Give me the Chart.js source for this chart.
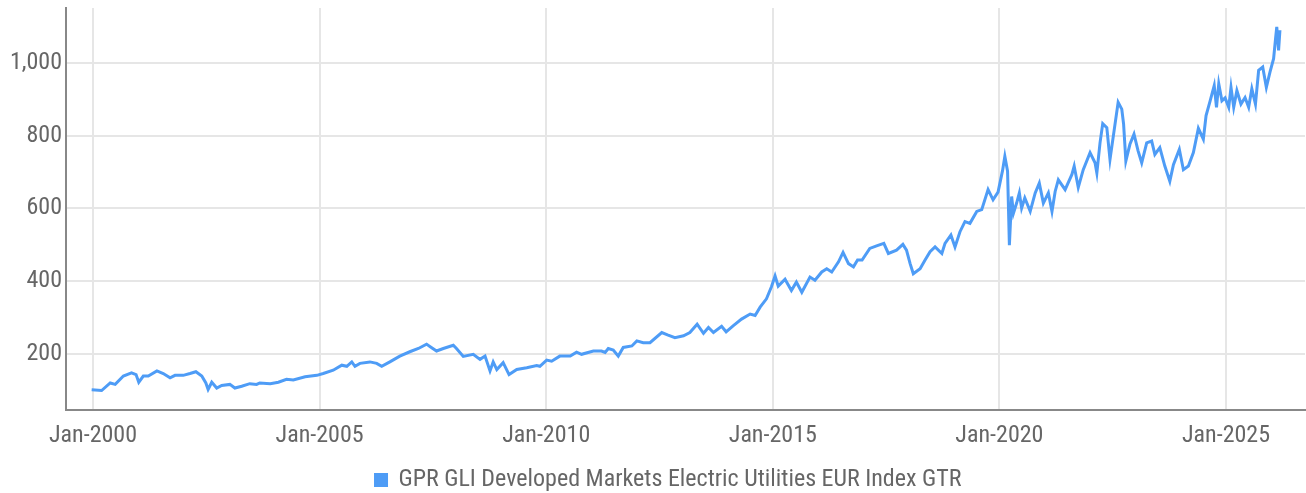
<!DOCTYPE html>
<html>
<head>
<meta charset="utf-8">
<script src="https://cdn.jsdelivr.net/npm/chart.js@4"></script>
<style>
  html, body { margin: 0; padding: 0; background: #fff; }
  #wrap { width: 1306px; height: 493px; }
</style>
</head>
<body>
<div id="wrap"><canvas id="indexChart" width="1306" height="493"></canvas></div>
<script>
// dates as decimal years
const yearPos = [
  1999.97, 2000.19, 2000.38, 2000.49, 2000.67, 2000.85, 2000.95, 2001.01, 2001.11, 2001.22,
  2001.41, 2001.55, 2001.70, 2001.81, 2001.99, 2002.14, 2002.27, 2002.40, 2002.49, 2002.54,
  2002.62, 2002.73, 2002.84, 2003.02, 2003.13, 2003.28, 2003.46, 2003.61, 2003.68, 2003.91,
  2004.09, 2004.27, 2004.42, 2004.68, 2004.94, 2005.08, 2005.30, 2005.49, 2005.60, 2005.71,
  2005.78, 2005.89, 2006.11, 2006.26, 2006.37, 2006.55, 2006.77, 2006.99, 2007.18, 2007.36,
  2007.44, 2007.58, 2007.73, 2007.95, 2008.02, 2008.17, 2008.39, 2008.54, 2008.65, 2008.76,
  2008.83, 2008.91, 2009.05, 2009.18, 2009.35, 2009.57, 2009.79, 2009.86, 2010.01, 2010.12,
  2010.30, 2010.53, 2010.67, 2010.78, 2011.04, 2011.22, 2011.30, 2011.37, 2011.48, 2011.59,
  2011.70, 2011.89, 2012.00, 2012.14, 2012.29, 2012.55, 2012.69, 2012.84, 2013.03, 2013.17,
  2013.33, 2013.47, 2013.58, 2013.69, 2013.87, 2013.97, 2014.13, 2014.31, 2014.50, 2014.61,
  2014.72, 2014.86, 2014.97, 2015.05, 2015.12, 2015.27, 2015.41, 2015.52, 2015.64, 2015.82,
  2015.93, 2016.08, 2016.19, 2016.30, 2016.45, 2016.55, 2016.67, 2016.78, 2016.87, 2016.97,
  2017.14, 2017.29, 2017.45, 2017.55, 2017.73, 2017.87, 2017.95, 2018.03, 2018.10, 2018.25,
  2018.36, 2018.47, 2018.58, 2018.73, 2018.80, 2018.93, 2019.02, 2019.13, 2019.24, 2019.35,
  2019.50, 2019.61, 2019.75, 2019.86, 2019.97, 2020.07, 2020.12, 2020.18, 2020.22, 2020.27,
  2020.31, 2020.38, 2020.44, 2020.49, 2020.56, 2020.68, 2020.79, 2020.88, 2020.97, 2021.08,
  2021.16, 2021.23, 2021.30, 2021.45, 2021.60, 2021.65, 2021.74, 2021.85, 2022.00, 2022.11,
  2022.15, 2022.22, 2022.28, 2022.37, 2022.44, 2022.53, 2022.62, 2022.70, 2022.74, 2022.79,
  2022.88, 2022.97, 2023.06, 2023.14, 2023.25, 2023.36, 2023.43, 2023.54, 2023.65, 2023.76,
  2023.84, 2023.97, 2024.06, 2024.17, 2024.28, 2024.39, 2024.50, 2024.56, 2024.65, 2024.74,
  2024.79, 2024.84, 2024.91, 2024.98, 2025.06, 2025.11, 2025.17, 2025.24, 2025.33, 2025.42,
  2025.50, 2025.57, 2025.65, 2025.72, 2025.81, 2025.89, 2025.97, 2026.05, 2026.09, 2026.12,
  2026.16, 2026.19
];

const indexValues = [
  100, 98, 119, 115, 138, 147, 142, 121, 138, 138,
  152, 145, 133, 140, 140, 145, 150, 138, 119, 101,
  121, 105, 112, 115, 105, 110, 117, 115, 119, 117,
  121, 129, 127, 136, 140, 145, 154, 168, 165, 177,
  165, 173, 177, 173, 165, 177, 193, 205, 214, 226,
  219, 207, 214, 223, 214, 192, 198, 184, 193, 152,
  177, 156, 175, 142, 156, 161, 167, 165, 182, 179,
  193, 193, 204, 198, 207, 207, 203, 214, 210, 193,
  217, 221, 235, 230, 230, 258, 251, 244, 249, 258,
  281, 256, 272, 258, 275, 260, 277, 295, 309, 305,
  328, 351, 384, 414, 386, 405, 374, 397, 369, 411,
  402, 425, 434, 425, 453, 479, 448, 439, 458, 458,
  490, 497, 504, 476, 485, 501, 485, 448, 420, 434,
  458, 481, 494, 476, 504, 527, 494, 536, 564, 559,
  592, 597, 652, 624, 645, 705, 744, 703, 499, 633,
  587, 615, 643, 601, 629, 592, 643, 670, 615, 643,
  592, 647, 679, 652, 694, 717, 658, 707, 754, 726,
  698, 781, 834, 823, 735, 814, 893, 874, 833, 731,
  777, 805, 759, 726, 781, 786, 749, 768, 717, 675,
  721, 763, 707, 717, 754, 821, 791, 856, 897, 939,
  879, 944, 897, 905, 879, 934, 879, 925, 888, 906,
  879, 930, 888, 981, 990, 934, 976, 1013, 1064, 1101,
  1036, 1092
];

const seriesName = 'GPR GLI Developed Markets Electric Utilities EUR Index GTR';
const xTickYears = [2000, 2005, 2010, 2015, 2020, 2025];
const yTickValues = [200, 400, 600, 800, 1000];

const lineColor = '#4e9cf6';
const textColor = '#666666';
const fontFamily = "'Liberation Sans Narrow', 'Roboto Condensed', 'Liberation Sans', sans-serif";

const points = yearPos.map((t, i) => ({ x: t, y: indexValues[i] }));

const ctx = document.getElementById('indexChart').getContext('2d');
const chart = new Chart(ctx, {
  type: 'line',
  data: {
    datasets: [{
      label: seriesName,
      data: points,
      borderColor: lineColor,
      backgroundColor: lineColor,
      borderWidth: 3,
      pointRadius: 0,
      tension: 0,
      fill: false
    }]
  },
  options: {
    responsive: false,
    animation: false,
    // negative right padding shifts the centred legend to where the original sits
    layout: { padding: { top: 8, right: -31, bottom: -9, left: 0 } },
    scales: {
      x: {
        type: 'linear',
        min: 1999.404,
        max: 2026.743,
        afterBuildTicks: (scale) => {
          scale.ticks = xTickYears.map(v => ({ value: v }));
        },
        afterFit: (scale) => {
          scale.height = 55;
          scale.paddingLeft = 0;
          scale.paddingRight = 1;
        },
        grid: { color: '#e6e6e6', lineWidth: 2, drawTicks: false },
        border: { color: '#888888', width: 2 },
        ticks: {
          color: textColor,
          font: { family: fontFamily, size: 24 },
          padding: 12,
          maxRotation: 0,
          callback: (v) => 'Jan-' + v
        }
      },
      y: {
        min: 44.4,
        max: 1152.8,
        afterBuildTicks: (scale) => {
          scale.ticks = yTickValues.map(v => ({ value: v }));
        },
        afterFit: (scale) => {
          scale.width = 66;
          scale.paddingTop = 0;
          scale.paddingBottom = 0;
        },
        grid: { color: '#e6e6e6', lineWidth: 2, drawTicks: false },
        border: { color: '#888888', width: 2 },
        ticks: {
          color: textColor,
          font: { family: fontFamily, size: 24 },
          padding: 4,
          callback: (v) => v.toLocaleString('en-US')
        }
      }
    },
    plugins: {
      legend: {
        position: 'bottom',
        labels: {
          color: textColor,
          font: { family: fontFamily, size: 24 },
          boxWidth: 11,
          boxHeight: 11,
          padding: 3
        }
      },
      tooltip: { enabled: false }
    }
  }
});
</script>
</body>
</html>
